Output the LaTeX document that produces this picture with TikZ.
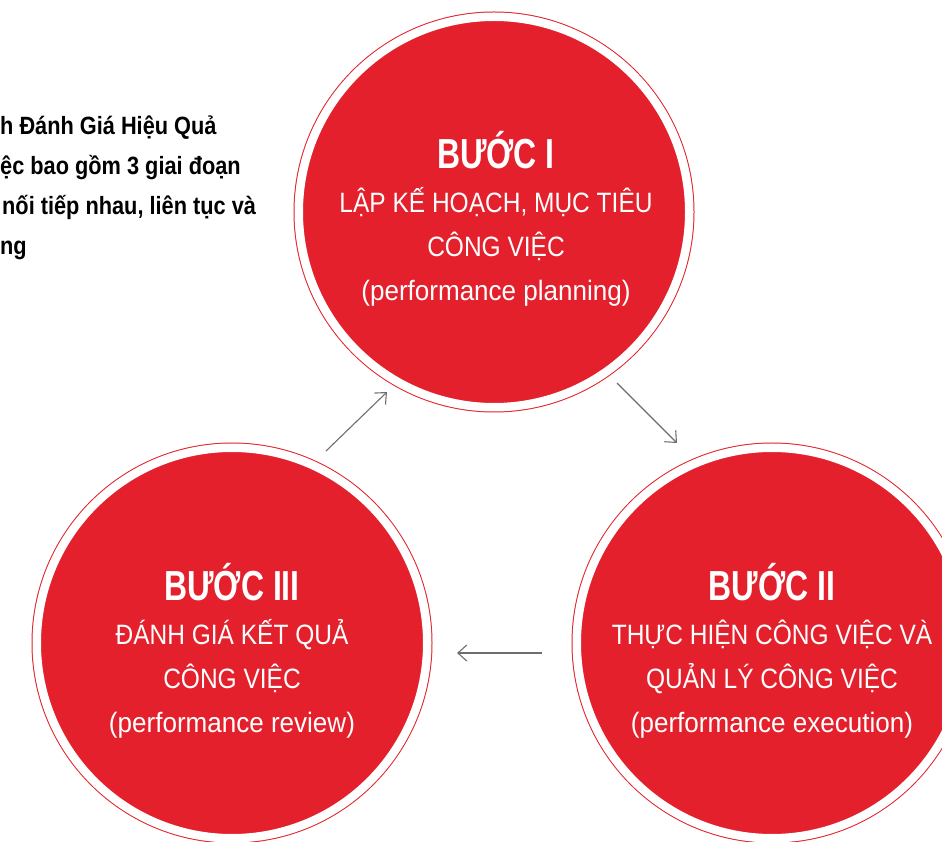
\documentclass[tikz,border=0pt]{standalone}
\usepackage{fontspec}
\setmainfont{Liberation Sans}
\newfontfamily\steptitlefont{Liberation Sans}[FakeStretch=0.76]
\newfontfamily\stepcapsfont{Liberation Sans}[FakeStretch=0.875]
\newfontfamily\steplowfont{Liberation Sans}[FakeStretch=0.93]
\newfontfamily\introfont{Liberation Sans}[FakeStretch=0.87]
\usetikzlibrary{positioning, arrows.meta, calc}

\definecolor{stepred}{RGB}{227,32,43}
\definecolor{arrowgray}{RGB}{110,110,110}
\newcommand{\steptitle}{\steptitlefont\bfseries\fontsize{42}{44}\selectfont}

\tikzset{
    stepcircle/.style={circle, fill=stepred, draw=stepred, line width=1pt,
        double=white, double distance=8.5pt, minimum size=390.5pt,
        inner sep=0pt, outer sep=0pt},
    steptext/.style={text=white, align=center, inner sep=0pt,
        font=\stepcapsfont\fontsize{28}{44}\selectfont},
    intro/.style={anchor=base west, inner sep=0pt,
        font=\introfont\bfseries\fontsize{25}{40}\selectfont},
    cyclearrow/.style={draw=arrowgray, line width=1.1pt,
        -{Straight Barb[length=9pt, width=16pt]}}
}

\begin{document}
\begin{tikzpicture}[x=1pt, y=1pt]
    \useasboundingbox (0,0) rectangle (942,841);
    \clip (0,0) rectangle (942,841);
    % Intro text, cut at the left edge
    \node[intro] (intro1) at (0,706) {h Đánh Giá Hiệu Quả};
    \node[intro] (intro2) at (0,666) {ệc bao gồm 3 giai đoạn};
    \node[intro] (intro3) at (2,626) {nối tiếp nhau, liên tục và};
    \node[intro] (intro4) at (0,586) {ng};
    % Steps
    \node[stepcircle] (planning) at (494,629) {};
    \node[stepcircle] (execution) at (772,198) {};
    \node[stepcircle] (review) at (232,198) {};
    \node[steptext] (planningtext) at ([xshift=2, yshift=-7]planning.center)
        {{\steptitle BƯỚC I}\\ LẬP KẾ HOẠCH, MỤC TIÊU\\ CÔNG VIỆC\\
         {\steplowfont (performance planning)}};
    \node[steptext] (executiontext) at ([yshift=-8]execution.center)
        {{\steptitle BƯỚC II}\\ THỰC HIỆN CÔNG VIỆC VÀ\\ QUẢN LÝ CÔNG VIỆC\\
         {\steplowfont (performance execution)}};
    \node[steptext] (reviewtext) at ([yshift=-8]review.center)
        {{\steptitle BƯỚC III}\\ ĐÁNH GIÁ KẾT QUẢ\\ CÔNG VIỆC\\
         {\steplowfont (performance review)}};
    % Arrow ends between the circles
    \coordinate (reviewout) at ($(review)+(94,192)$);
    \coordinate (planningin) at ($(planning)+(-107,-180)$);
    \coordinate (planningout) at ($(planning)+(123,-171)$);
    \coordinate (executionin) at ($(execution)+(-95,200)$);
    \coordinate (executionout) at ($(execution)+(-230,-10)$);
    \coordinate (reviewin) at ($(review)+(225,-10)$);
    \draw[cyclearrow] (reviewout) -- (planningin);
    \draw[cyclearrow] (planningout) -- (executionin);
    \draw[cyclearrow] (executionout) -- (reviewin);
\end{tikzpicture}
\end{document}
